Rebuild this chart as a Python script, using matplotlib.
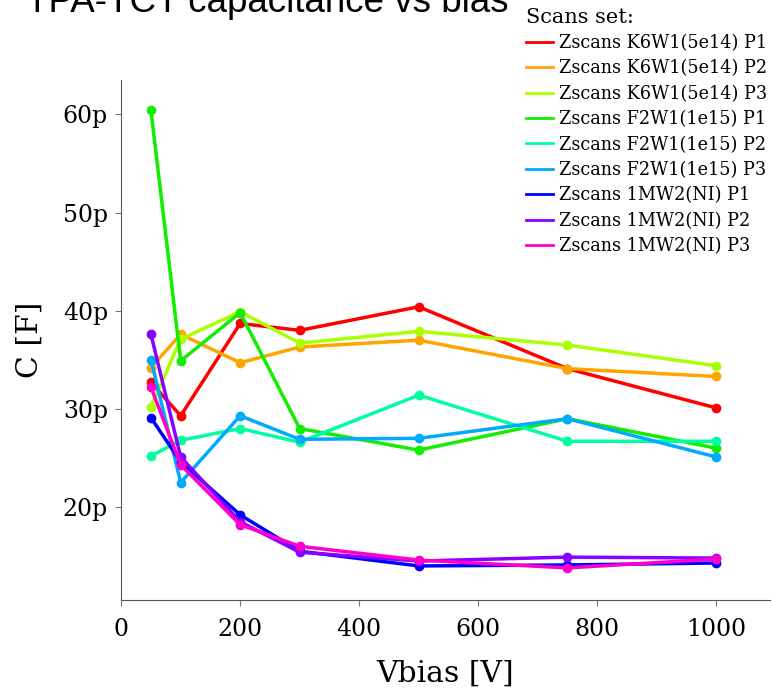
import matplotlib
matplotlib.use('Agg')
import matplotlib.pyplot as plt
from matplotlib.ticker import EngFormatter

# Tensions de polarisation (V)
vbias = [50, 100, 200, 300, 500, 750, 1000]

# Capacités mesurées (pF)
k6w1_p1 = [32.7, 29.3, 38.7, 38.0, 40.4, 34.1, 30.1]
k6w1_p2 = [34.2, 37.6, 34.7, 36.3, 37.0, 34.1, 33.3]
k6w1_p3 = [30.2, 37.1, 39.9, 36.7, 37.9, 36.5, 34.4]
f2w1_p1 = [60.4, 34.9, 39.8, 28.0, 25.8, 29.0, 26.0]
f2w1_p2 = [25.2, 26.8, 28.0, 26.6, 31.4, 26.7, 26.7]
f2w1_p3 = [35.0, 22.5, 29.3, 26.9, 27.0, 29.0, 25.1]
mw2_p1 = [29.1, 24.6, 19.2, 15.5, 14.0, 14.1, 14.3]
mw2_p2 = [37.6, 25.1, 18.5, 15.4, 14.5, 14.9, 14.8]
mw2_p3 = [32.2, 24.3, 18.2, 16.0, 14.6, 13.8, 14.7]

labels = ['Zscans K6W1(5e14) P1', 'Zscans K6W1(5e14) P2', 'Zscans K6W1(5e14) P3',
          'Zscans F2W1(1e15) P1', 'Zscans F2W1(1e15) P2', 'Zscans F2W1(1e15) P3',
          'Zscans 1MW2(NI) P1', 'Zscans 1MW2(NI) P2', 'Zscans 1MW2(NI) P3']
series = [k6w1_p1, k6w1_p2, k6w1_p3, f2w1_p1, f2w1_p2, f2w1_p3, mw2_p1, mw2_p2, mw2_p3]

colors = ['#ff0000', '#ffa500', '#aaff00', '#11ee00', '#00ffa0',
          '#00aaff', '#0000ff', '#8800ff', '#ff00cc']

fig = plt.figure(figsize=(7.72, 6.9), dpi=100)
ax = fig.add_axes([0.157, 0.13, 0.84, 0.754])

for vals, lab, col in zip(series, labels, colors):
    ax.plot(vbias, [v * 1e-12 for v in vals], color=col, linewidth=2.5,
            marker='o', markersize=6, label=lab)

ax.set_xlim(0, 1090)
ax.set_ylim(10.5e-12, 63.5e-12)
ax.set_xticks([0, 200, 400, 600, 800, 1000])
ax.set_yticks([20e-12, 30e-12, 40e-12, 50e-12, 60e-12])
ax.yaxis.set_major_formatter(EngFormatter(places=0, sep=''))

for s in ['top', 'right']:
    ax.spines[s].set_visible(False)
for s in ['left', 'bottom']:
    ax.spines[s].set_color('#555555')
ax.tick_params(colors='#777777', labelcolor='black', labelsize=17, length=4)
ax.tick_params(axis='x', pad=9)
ax.tick_params(axis='y', pad=5.5)
for t in ax.get_xticklabels() + ax.get_yticklabels():
    t.set_family('DejaVu Serif')

ax.set_xlabel('Vbias [V]', fontsize=21.5, family='DejaVu Serif', labelpad=13)
ax.set_ylabel('C [F]', fontsize=21.5, family='DejaVu Serif', labelpad=14)

fig.text(0.034, 0.983, 'TPA-TCT capacitance vs bias', fontsize=26.5,
         family='Liberation Sans', va='baseline', ha='left')

leg = fig.legend(handles=[plt.Line2D([], [], color=c, linewidth=2) for c in colors],
                 labels=labels, title='Scans set:', loc='upper left',
                 bbox_to_anchor=(0.661, 1.012), frameon=False,
                 prop={'family': 'DejaVu Serif', 'size': 12.7},
                 handlelength=1.5, handletextpad=0.35, labelspacing=0.42)
leg.get_title().set_family('DejaVu Serif')
leg.get_title().set_fontsize(15)
leg._legend_box.align = 'left'

fig.savefig('out.png', dpi=100)
